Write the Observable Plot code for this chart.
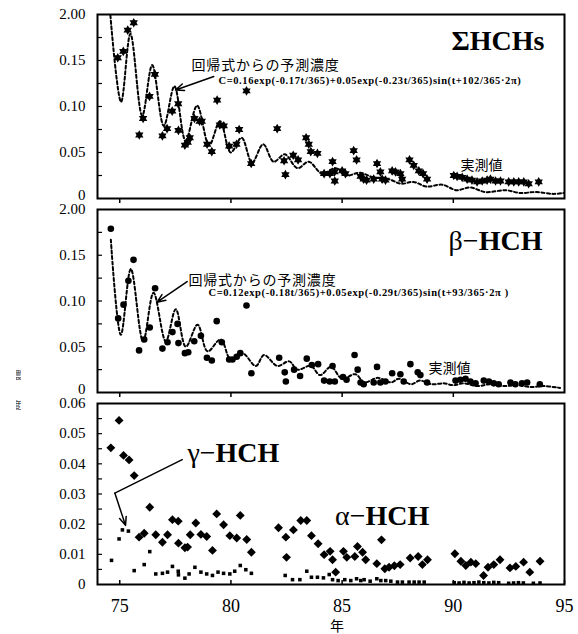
<!DOCTYPE html>
<html><head><meta charset="utf-8">
<script src="https://cdn.jsdelivr.net/npm/d3@7"></script>
<script src="https://cdn.jsdelivr.net/npm/@observablehq/plot@0.6"></script>
<style>
body{margin:0;background:#fff;}
#wrap{position:relative;width:578px;height:634px;overflow:hidden;background:#fff;}
#wrap svg{position:absolute;left:0;overflow:visible;}
#ylab{position:absolute;left:16px;top:370px;width:5px;height:60px;overflow:hidden;font:10px 'Noto Sans CJK JP';color:#444;writing-mode:vertical-rl;line-height:10px;}
#xlab{position:absolute;left:330px;top:618px;font:14px 'Noto Sans CJK JP';line-height:15px;color:#000;}
</style></head><body><div id="wrap"><div id="ylab">濃　　度</div><div id="xlab">年</div></div>
<script>
// ---------- tick labels ----------
const xTicks = [75, 80, 85, 90, 95];
const xTicksUpper = [75, 80, 85, 90];
const yTicksTop = [0, 0.05, 0.10, 0.15, 0.20];
const yLabelsTop = ["0", "0.05", "0.10", "0.15", "2.00"];
const yMinorTop = [0.025, 0.05, 0.075, 0.10, 0.125, 0.15, 0.175];
const yTicksBot = [0, 0.01, 0.02, 0.03, 0.04, 0.05, 0.06];
const yLabelsBot = ["0", "0.01", "0.02", "0.03", "0.04", "0.05", "0.06"];
const yMinorBot = [0.005, 0.01, 0.015, 0.02, 0.025, 0.03, 0.035, 0.04, 0.045, 0.05, 0.055];

// ---------- ΣHCHs measured ----------
const sumYears = [74.91,75.16,75.36,75.63,75.88,76.05,76.34,76.58,76.92,77.13,77.36,77.63,77.64,77.93,78.06,78.15,78.36,78.59,78.69,78.93,79.14,79.38,79.50,79.68,79.92,80.25,80.37,80.70,80.91,82.08,82.39,82.45,82.80,83.02,83.38,83.50,83.59,83.89,84.19,84.45,84.57,84.66,84.67,85.00,85.15,85.52,85.65,85.83,85.97,86.10,86.42,86.57,86.72,86.80,86.95,87.25,87.40,87.62,87.70,88.03,88.22,88.45,88.64,88.82,90.02,90.17,90.40,90.62,90.84,91.07,91.30,91.52,91.67,91.90,92.12,92.49,92.72,92.94,93.17,93.39,93.84];
const sumValues = [0.153,0.160,0.183,0.191,0.069,0.087,0.111,0.135,0.068,0.076,0.095,0.103,0.074,0.058,0.061,0.066,0.087,0.084,0.084,0.059,0.051,0.107,0.080,0.079,0.057,0.059,0.075,0.117,0.038,0.076,0.041,0.026,0.047,0.042,0.066,0.059,0.051,0.049,0.027,0.027,0.040,0.029,0.019,0.030,0.027,0.052,0.042,0.024,0.021,0.020,0.021,0.038,0.029,0.021,0.020,0.030,0.029,0.027,0.021,0.042,0.036,0.030,0.027,0.021,0.025,0.024,0.023,0.021,0.020,0.018,0.019,0.020,0.021,0.019,0.019,0.018,0.018,0.018,0.018,0.016,0.018];
// ΣHCHs regression curve
const sumFitYears = [74.58,75.06,75.48,76.01,76.46,76.98,77.46,77.96,78.48,79.02,79.51,79.99,80.48,80.95,81.45,81.92,82.42,82.99,83.50,84.10,84.70,85.20,85.80,86.40,87.10,87.65,88.20,88.80,89.50,90.15,90.75,91.45,92.35,93.00,93.75,94.50,94.95];
const sumFitValues = [0.199,0.105,0.179,0.090,0.145,0.079,0.122,0.063,0.101,0.058,0.084,0.050,0.066,0.039,0.059,0.040,0.048,0.033,0.040,0.027,0.033,0.025,0.028,0.023,0.021,0.016,0.018,0.013,0.015,0.009,0.012,0.007,0.009,0.006,0.007,0.005,0.006];

// ---------- β-HCH measured ----------
const betaYears = [74.60,74.93,75.17,75.39,75.62,75.87,76.10,76.35,76.59,76.92,77.15,77.37,77.60,77.64,77.93,78.08,78.35,78.65,78.92,79.14,79.36,79.59,79.92,80.07,80.26,80.42,80.70,80.92,82.17,82.42,82.47,82.84,83.11,83.41,83.64,83.92,84.19,84.44,84.57,84.67,85.04,85.20,85.56,85.70,85.83,85.97,86.42,86.57,86.72,86.95,87.25,87.62,87.77,88.07,88.40,88.52,88.82,90.10,90.32,90.55,90.77,91.00,91.37,91.60,91.82,92.04,92.57,92.79,93.09,93.32,93.89];
const betaValues = [0.179,0.081,0.096,0.122,0.145,0.046,0.058,0.071,0.114,0.048,0.055,0.066,0.075,0.054,0.043,0.044,0.056,0.062,0.038,0.035,0.078,0.055,0.036,0.036,0.039,0.043,0.095,0.021,0.038,0.022,0.012,0.025,0.018,0.037,0.030,0.031,0.013,0.012,0.029,0.012,0.017,0.014,0.041,0.025,0.011,0.009,0.011,0.028,0.011,0.012,0.021,0.020,0.012,0.031,0.022,0.019,0.011,0.013,0.014,0.015,0.012,0.010,0.013,0.012,0.010,0.009,0.011,0.009,0.010,0.011,0.009];
const betaFitYears = [74.60,75.05,75.50,76.05,76.52,77.07,77.52,77.97,78.50,78.95,79.54,79.99,80.52,81.12,81.49,82.09,82.62,82.99,83.59,84.01,84.50,85.00,85.60,86.00,86.60,87.20,87.55,88.10,88.50,89.05,89.57,90.00,90.47,91.07,91.67,92.27,92.87,93.47,94.07,94.80];
const betaFitValues = [0.167,0.063,0.135,0.056,0.109,0.056,0.091,0.050,0.074,0.045,0.058,0.036,0.043,0.029,0.041,0.029,0.034,0.025,0.029,0.019,0.028,0.015,0.020,0.011,0.016,0.011,0.015,0.009,0.013,0.009,0.010,0.008,0.010,0.007,0.009,0.007,0.008,0.006,0.007,0.005];

// ---------- α-HCH ----------
const alphaYears = [74.60,74.97,75.17,75.42,75.65,75.87,76.10,76.35,76.62,76.92,77.15,77.37,77.63,77.64,77.93,78.05,78.17,78.42,78.65,78.91,79.17,79.36,79.67,79.95,80.26,80.42,80.71,80.92,82.14,82.47,82.50,82.81,83.14,83.41,83.62,83.92,84.19,84.46,84.57,84.71,85.06,85.21,85.57,85.69,85.92,86.06,86.56,86.77,86.92,87.11,87.35,87.61,88.06,88.42,88.61,88.84,90.07,90.34,90.56,90.79,91.01,91.36,91.56,91.82,92.10,92.55,92.81,93.16,93.44,93.90];
const alphaValues = [0.0453,0.0544,0.0428,0.0413,0.0361,0.0157,0.0170,0.0256,0.0165,0.0140,0.0165,0.0215,0.0210,0.0137,0.0122,0.0124,0.0165,0.0204,0.0166,0.0159,0.0113,0.0234,0.0198,0.0162,0.0154,0.0229,0.0149,0.0107,0.0188,0.0157,0.0090,0.0181,0.0212,0.0212,0.0162,0.0135,0.0099,0.0110,0.0082,0.0041,0.0110,0.0090,0.0093,0.0126,0.0107,0.0082,0.0069,0.0148,0.0052,0.0057,0.0062,0.0066,0.0088,0.0093,0.0066,0.0082,0.0102,0.0077,0.0063,0.0074,0.0069,0.0030,0.0057,0.0066,0.0082,0.0055,0.0060,0.0074,0.0041,0.0077];
// ---------- γ-HCH ----------
const gammaYears = [74.63,74.97,75.12,75.39,75.65,76.10,76.35,76.62,76.92,77.15,77.37,77.63,77.64,77.93,78.12,78.38,78.65,78.91,79.17,79.42,79.67,79.95,80.17,80.42,80.67,80.92,82.44,82.77,83.10,83.41,83.62,83.89,84.16,84.42,84.57,84.82,85.12,85.39,85.65,85.84,85.99,86.26,86.56,86.74,86.96,87.19,87.49,87.71,88.01,88.24,88.46,88.69,90.04,90.26,90.48,90.71,90.93,91.15,91.37,91.60,91.82,92.04,92.49,92.71,92.93,93.15,93.60,93.90];
const gammaValues = [0.0080,0.0151,0.0181,0.0177,0.0046,0.0066,0.0109,0.0035,0.0037,0.0041,0.0060,0.0044,0.0032,0.0021,0.0035,0.0057,0.0041,0.0035,0.0030,0.0041,0.0037,0.0035,0.0044,0.0063,0.0049,0.0037,0.0030,0.0016,0.0016,0.0044,0.0024,0.0024,0.0022,0.0033,0.0016,0.0013,0.0016,0.0013,0.0019,0.0013,0.0016,0.0011,0.0019,0.0013,0.0013,0.0011,0.0008,0.0008,0.0008,0.0008,0.0008,0.0008,0.0006,0.0005,0.0007,0.0005,0.0006,0.0008,0.0006,0.0005,0.0007,0.0006,0.0004,0.0005,0.0006,0.0005,0.0004,0.0005];

// ---------- annotation texts (positions in data units) ----------
const fitLabel = "回帰式からの予測濃度";
const obsLabel = "実測値";
const sumFormula = "C=0.16exp(-0.17t/365)+0.05exp(-0.23t/365)sin(t+102/365·2π)";
const betaFormula = "C=0.12exp(-0.18t/365)+0.05exp(-0.29t/365)sin(t+93/365·2π )";
const sumNotes = {title: {x: 94.1, y: 0.161, text: "ΣHCHs"}, fit: {x: 78.23, y: 0.140, text: fitLabel}, formula: {x: 79.44, y: 0.125, text: sumFormula}, obs: {x: 90.32, y: 0.0315, text: obsLabel}};
const sumArrow = [{x1: 79.23, y1: 0.1326, x2: 77.51, y2: 0.118}];
const betaNotes = {greek: {x: 91.14, y: 0.156, text: "β−"}, hch: {x: 91.14, y: 0.156, text: "HCH"}, fit: {x: 78.09, y: 0.118, text: fitLabel}, formula: {x: 78.99, y: 0.106, text: betaFormula}, obs: {x: 88.88, y: 0.0208, text: obsLabel}};
const betaArrow = [{x1: 78.03, y1: 0.1213, x2: 76.68, y2: 0.0987}];
const botNotes = {gGreek: {x: 79.31, y: 0.0405, text: "γ−"}, gHch: {x: 79.31, y: 0.0405, text: "HCH"}, aGreek: {x: 86.05, y: 0.0196, text: "α−"}, aHch: {x: 86.05, y: 0.0196, text: "HCH"}};
const gammaLeader = [{x: 77.81, y: 0.0414}, {x: 74.78, y: 0.0303}];
const gammaArrow = [{x1: 74.78, y1: 0.0303, x2: 75.26, y2: 0.0196}];

// ---------- helpers ----------
const zip = (xs, ys) => xs.map((x, i) => ({year: x, value: ys[i]}));
const SERIF = "Liberation Serif";
const CJK = "Noto Sans CJK JP";
const W = 578, ML = 97, MR = 14, PW = W - ML - MR;

const hexagram = {
  draw(context, size) {
    const r = Math.sqrt(size / Math.PI) * 1.15;
    for (const off of [-Math.PI / 2, Math.PI / 2]) {
      for (let k = 0; k < 3; k++) {
        const a = off + k * 2 * Math.PI / 3;
        const px = r * Math.cos(a), py = r * Math.sin(a);
        if (k) context.lineTo(px, py); else context.moveTo(px, py);
      }
      context.closePath();
    }
  }
};

const note = (n, opts) => Plot.text([n], {x: "x", y: "y", text: "text", lineAnchor: "bottom", fill: "black", ...opts});

function panel({top, height, marginTop, marginBottom, yDomain, yTicks, yLabels, yMinor, marks, xAxis, raiseZero}) {
  const PH = height - marginTop - marginBottom;
  const svg = Plot.plot({
    width: W, height, marginTop, marginBottom, marginLeft: ML, marginRight: MR,
    x: {domain: [74, 95]},
    y: {domain: yDomain},
    style: {fontFamily: SERIF, fontSize: "15px", color: "black", background: "transparent", overflow: "visible"},
    marks: [
      Plot.axisY({ticks: yTicks, tickFormat: d => yLabels[yTicks.indexOf(d)], tickSize: 0, tickPadding: 12, label: null, fontSize: 15, fontFamily: SERIF}),
      Plot.tickY(yMinor, {y: d => d, insetRight: PW - 5, stroke: "black", strokeWidth: 1.2}),
      ...xAxis(PH),
      ...marks,
      Plot.frame({stroke: "black", strokeWidth: 2})
    ]
  });
  svg.style.top = top + "px";
  svg.querySelectorAll("text").forEach(t => {
    const s = t.textContent;
    if (s.startsWith("C=")) t.setAttribute("letter-spacing", "0.6");
    if (s === fitLabel) t.setAttribute("letter-spacing", "0.8");
  });
  if (raiseZero) {
    svg.querySelectorAll('g[aria-label="y-axis tick label"] text').forEach(t => {
      if (t.textContent === "0") t.setAttribute("y", "0.1em");
    });
  }
  document.getElementById("wrap").appendChild(svg);
}

const upperXAxis = () => [Plot.axisX({ticks: xTicksUpper, tickSize: 5, tickFormat: () => "", label: null, strokeWidth: 1.5})];

// ---------- ΣHCHs ----------
panel({
  top: 0, height: 204, marginTop: 14, marginBottom: 6, raiseZero: true,
  yDomain: [0, 0.2], yTicks: yTicksTop, yLabels: yLabelsTop, yMinor: yMinorTop,
  xAxis: upperXAxis,
  marks: [
    Plot.line(zip(sumFitYears, sumFitValues), {x: "year", y: "value", curve: "catmull-rom", stroke: "black", strokeWidth: 2, strokeDasharray: "3,2.5"}),
    Plot.dot(zip(sumYears, sumValues), {x: "year", y: "value", symbol: hexagram, r: 4.2, fill: "black", stroke: "none"}),
    note(sumNotes.title, {textAnchor: "end", fontSize: 28, fontWeight: "bold", fontFamily: SERIF}),
    note(sumNotes.fit, {textAnchor: "start", fontSize: 14, fontFamily: CJK}),
    note(sumNotes.formula, {textAnchor: "start", fontSize: 10.5, fontWeight: "bold", fontFamily: SERIF}),
    note(sumNotes.obs, {textAnchor: "start", fontSize: 14, fontFamily: CJK}),
    Plot.arrow(sumArrow, {x1: "x1", y1: "y1", x2: "x2", y2: "y2", stroke: "black", strokeWidth: 1.5, headLength: 9, headAngle: 45})
  ]
});

// ---------- β-HCH ----------
panel({
  top: 200, height: 198, marginTop: 9, marginBottom: 6, raiseZero: true,
  yDomain: [0, 0.2], yTicks: yTicksTop, yLabels: yLabelsTop, yMinor: yMinorTop,
  xAxis: upperXAxis,
  marks: [
    Plot.line(zip(betaFitYears, betaFitValues), {x: "year", y: "value", curve: "catmull-rom", stroke: "black", strokeWidth: 2, strokeDasharray: "3,2.5"}),
    Plot.dot(zip(betaYears, betaValues), {x: "year", y: "value", r: 3.3, fill: "black", stroke: "none"}),
    note(betaNotes.greek, {textAnchor: "end", fontSize: 28, fontFamily: SERIF}),
    note(betaNotes.hch, {textAnchor: "start", fontSize: 28, fontWeight: "bold", fontFamily: SERIF}),
    note(betaNotes.fit, {textAnchor: "start", fontSize: 14, fontFamily: CJK}),
    note(betaNotes.formula, {textAnchor: "start", fontSize: 10.5, fontWeight: "bold", fontFamily: SERIF}),
    note(betaNotes.obs, {textAnchor: "start", fontSize: 14, fontFamily: CJK}),
    Plot.arrow(betaArrow, {x1: "x1", y1: "y1", x2: "x2", y2: "y2", stroke: "black", strokeWidth: 1.5, headLength: 9, headAngle: 45})
  ]
});

// ---------- α / γ-HCH ----------
panel({
  top: 398, height: 236, marginTop: 5, marginBottom: 50,
  yDomain: [0, 0.06], yTicks: yTicksBot, yLabels: yLabelsBot, yMinor: yMinorBot,
  xAxis: PH => [
    Plot.axisX({ticks: xTicks, tickSize: 0, tickPadding: 15, label: null, fontSize: 18, fontFamily: SERIF}),
    Plot.tickX(xTicks, {x: d => d, insetTop: PH - 4, stroke: "black", strokeWidth: 1.5})
  ],
  marks: [
    Plot.dot(zip(gammaYears, gammaValues), {x: "year", y: "value", symbol: "square", r: 2, fill: "black", stroke: "none"}),
    Plot.dot(zip(alphaYears, alphaValues), {x: "year", y: "value", symbol: "diamond2", r: 4, fill: "black", stroke: "none"}),
    note(botNotes.gGreek, {textAnchor: "end", fontSize: 28, fontFamily: SERIF}),
    note(botNotes.gHch, {textAnchor: "start", fontSize: 28, fontWeight: "bold", fontFamily: SERIF}),
    note(botNotes.aGreek, {textAnchor: "end", fontSize: 28, fontFamily: SERIF}),
    note(botNotes.aHch, {textAnchor: "start", fontSize: 28, fontWeight: "bold", fontFamily: SERIF}),
    Plot.line(gammaLeader, {x: "x", y: "y", stroke: "black", strokeWidth: 1.5}),
    Plot.arrow(gammaArrow, {x1: "x1", y1: "y1", x2: "x2", y2: "y2", stroke: "black", strokeWidth: 1.5, headLength: 9, headAngle: 45})
  ]
});
</script></body></html>
